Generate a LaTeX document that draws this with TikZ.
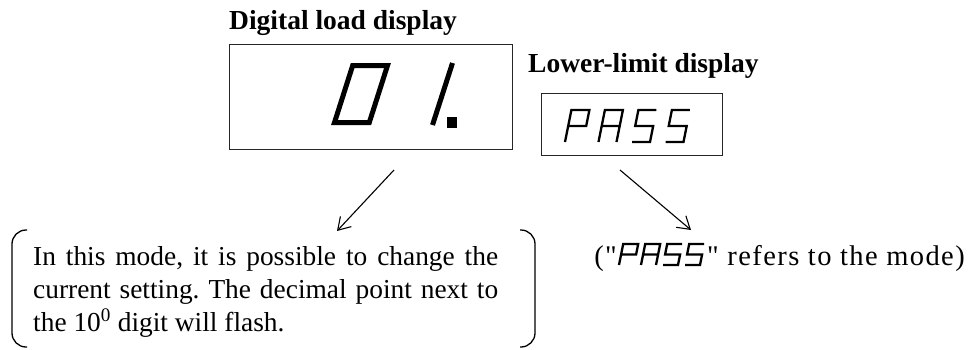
\documentclass[tikz,border=0pt]{standalone}
\usepackage{fontspec}
\setmainfont{Liberation Serif}[Ligatures=TeXOff]
\usetikzlibrary{arrows.meta,calc}
\frenchspacing
\newcommand\segglyph[4]{% #1 coordinate of bottom-left, #2 width, #3 height, #4 path
  \begin{scope}[shift={#1}, xslant=0.2, x=#2pt, y=#3pt]
    \draw[seg] #4;
  \end{scope}}
\begin{document}
\begin{tikzpicture}[x=1pt,y=-1pt,
  lbl/.style={font=\fontsize{27.5}{33}\selectfont\bfseries, inner sep=0pt},
  body/.style={font=\fontsize{27.4}{33.5}\selectfont\frenchspacing, inner sep=0pt},
  remark/.style={font=\fontsize{28.5}{34}\selectfont\addfontfeatures{LetterSpace=5}, inner sep=0pt},
  panel/.style={draw=black!85, line width=1.1pt, inner sep=0pt},
  seg/.style={line width=2.3pt, line join=miter, line cap=butt},
  bigseg/.style={line width=5pt, line join=miter},
  pointer/.style={line width=1.1pt, -{Straight Barb[length=12pt,width=15pt]}},
  brace/.style={line width=1.3pt, rounded corners=14pt},
]
\useasboundingbox (0,0) rectangle (972,349);

% digital load display
\node[lbl, anchor=base west] (title) at (229,29) {Digital load display};
\node[panel, minimum width=283pt, minimum height=105pt, anchor=north west] (dig) at (229,44) {};
\draw[bigseg] (352.7,65.5) -- (387.5,65.5) -- (369.3,122.5) -- (334.5,122.5) -- cycle;
\draw[line width=5pt] (452.5,63) -- (432.5,125);
\fill (446.5,117) rectangle (457,127.5);

% lower-limit display
\node[lbl, anchor=base west] (lower) at (528,72) {Lower-limit display};
\node[panel, minimum width=181pt, minimum height=62pt, anchor=north west] (pass) at (541,93) {};
\segglyph{(565,142)}{18}{32}{(0,0) -- (0,1) -- (1,1) -- (1,.5) -- (0,.5)}
\segglyph{(598.5,142)}{18}{32}{(0,0) -- (0,1) -- (1,1) -- (1,0) (0,.5) -- (1,.5)}
\segglyph{(632,142)}{18}{32}{(1,1) -- (0,1) -- (0,.5) -- (1,.5) -- (1,0) -- (0,0)}
\segglyph{(665.5,142)}{18}{32}{(1,1) -- (0,1) -- (0,.5) -- (1,.5) -- (1,0) -- (0,0)}

% pointers
\coordinate (a1from) at (394,170);
\coordinate (a1to) at (337,231);
\draw[pointer] (a1from) -- (a1to);
\coordinate (a2from) at (620,170);
\coordinate (a2to) at (691,230);
\draw[pointer] (a2from) -- (a2to);

% bracketed note
\draw[brace] (27,230) -- (12,230) -- (12,347) -- (27,347);
\draw[brace] (520,230) -- (535,230) -- (535,347) -- (520,347);
\node[body, anchor=base west] (note1) at (33,265) {\makebox[465pt][s]{In this mode, it is possible to change the}};
\node[body, anchor=base west] (note2) at (33,298) {\makebox[465pt][s]{current setting. The decimal point next to}};
\node[body, anchor=base west] (note3) at (33,331) {the 10\textsuperscript{0} digit will flash.};

% mode remark
\node[remark, anchor=base east] (rtR) at (965,265) {" refers to the mode)};
\coordinate (pg) at ($(rtR.base west)+(-88,0)$);
\segglyph{($(pg)+(0,0)$)}{15}{21}{(0,0) -- (0,1) -- (1,1) -- (1,.5) -- (0,.5)}
\segglyph{($(pg)+(22,0)$)}{15}{21}{(0,0) -- (0,1) -- (1,1) -- (1,0) (0,.5) -- (1,.5)}
\segglyph{($(pg)+(44,0)$)}{15}{21}{(1,1) -- (0,1) -- (0,.5) -- (1,.5) -- (1,0) -- (0,0)}
\segglyph{($(pg)+(66,0)$)}{15}{21}{(1,1) -- (0,1) -- (0,.5) -- (1,.5) -- (1,0) -- (0,0)}
\node[remark, anchor=base east] (rtL) at ($(pg)+(-2,0)$) {("};
\end{tikzpicture}
\end{document}
